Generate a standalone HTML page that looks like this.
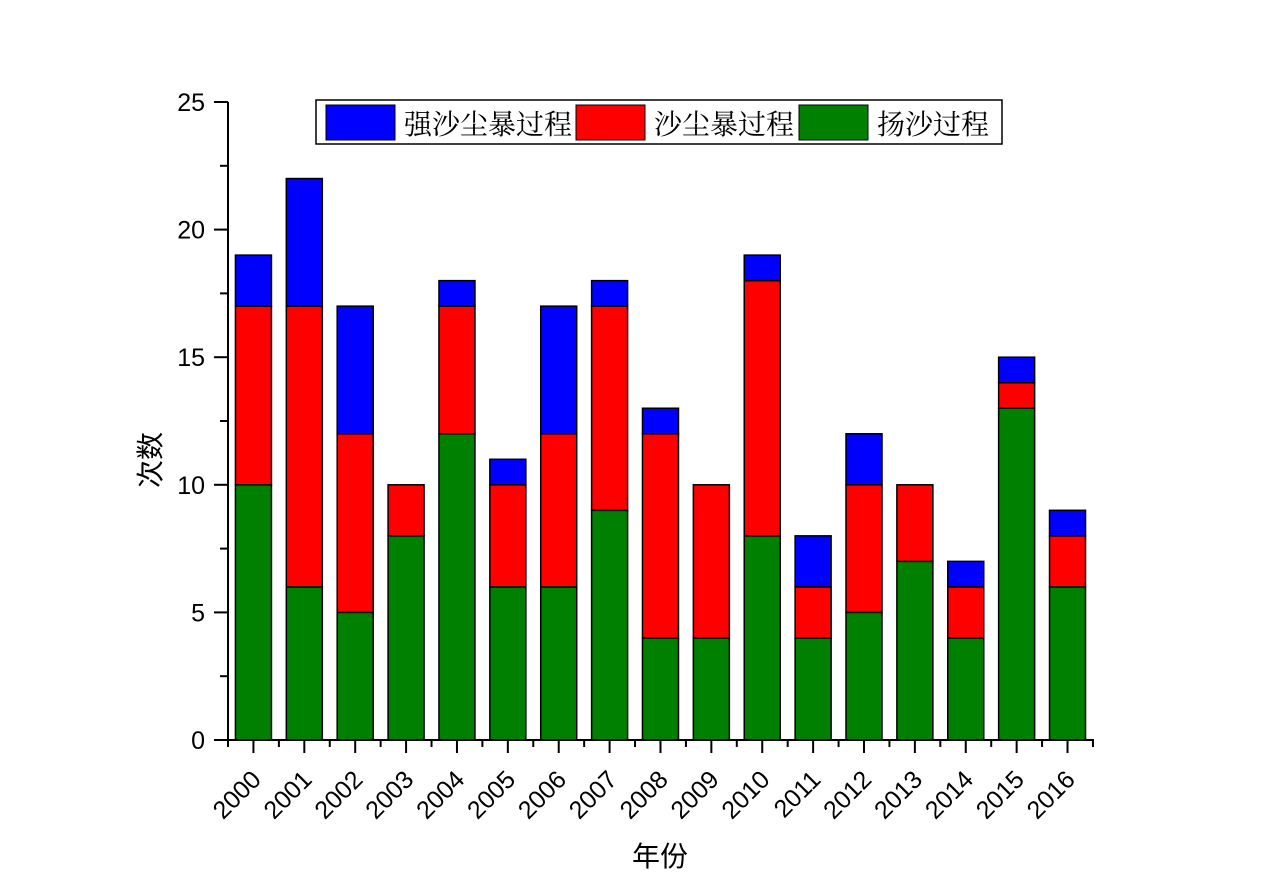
<!DOCTYPE html>
<html><head><meta charset="utf-8"><style>html,body{margin:0;padding:0;background:#fff}svg{display:block}</style></head>
<body>
<svg width="1270" height="887" viewBox="0 0 1270 887" xmlns="http://www.w3.org/2000/svg" font-family="Liberation Sans, Noto Sans CJK SC, sans-serif">
<g id="bars" stroke="#000" stroke-width="1.5"></g>
<g stroke="#000" stroke-width="2" fill="none" id="axes">
<line x1="228" y1="102" x2="228" y2="741"/>
<line x1="227" y1="740" x2="1094" y2="740"/>
</g>
<g id="labels" fill="#000"></g>
<text x="660" y="866" font-size="28" text-anchor="middle" font-family="Noto Sans CJK SC, sans-serif">年份</text>
<text transform="translate(160,460) rotate(-90)" font-size="28" text-anchor="middle" font-family="Noto Sans CJK SC, sans-serif">次数</text>
<g>
<rect x="316" y="100" width="686" height="44" fill="#fff" stroke="#000" stroke-width="1.5"/>
<rect x="326" y="105" width="69" height="35" fill="#0000ff" stroke="#000" stroke-width="1"/>
<text x="404" y="134" font-size="28" font-family="Noto Serif CJK SC, serif">强沙尘暴过程</text>
<rect x="576" y="105" width="69" height="35" fill="#ff0000" stroke="#000" stroke-width="1"/>
<text x="654" y="134" font-size="28" font-family="Noto Serif CJK SC, serif">沙尘暴过程</text>
<rect x="799" y="105" width="69" height="35" fill="#008000" stroke="#000" stroke-width="1"/>
<text x="877" y="134" font-size="28" font-family="Noto Serif CJK SC, serif">扬沙过程</text>
</g>
<script>
var d=[[10,7,2],[6,11,5],[5,7,5],[8,2,0],[12,5,1],[6,4,1],[6,6,5],[9,8,1],[4,8,1],[4,6,0],[8,10,1],[4,2,2],[5,5,2],[7,3,0],[4,2,1],[13,1,1],[6,2,1]];
var ns="http://www.w3.org/2000/svg",B=document.getElementById("bars"),A=document.getElementById("axes"),L=document.getElementById("labels");
function el(p,t,a){var e=document.createElementNS(ns,t);for(var k in a)e.setAttribute(k,a[k]);p.appendChild(e);return e;}
var s=25.52,y0=740,w=50.88,c=["#008000","#ff0000","#0000ff"];
d.forEach(function(v,i){var x=228+w*i+(w-36)/2,acc=0;v.forEach(function(h,j){if(!h)return;el(B,"rect",{x:x,y:y0-(acc+h)*s,width:36,height:h*s,fill:c[j]});acc+=h;});
var cx=228+w*(i+0.5);el(A,"line",{x1:cx,y1:740,x2:cx,y2:753});el(A,"line",{x1:228+w*(i+1),y1:740,x2:228+w*(i+1),y2:747});
var t=el(L,"text",{"text-anchor":"end","font-size":"25",transform:"translate("+(cx+9)+",781) rotate(-45)"});t.textContent=2000+i;});
el(A,"line",{x1:228,y1:740,x2:228,y2:747});
for(var k=0;k<=10;k++){var y=y0-k*2.5*s;el(A,"line",{x1:k%2?220:214,y1:y,x2:228,y2:y});if(k%2==0){var t=el(L,"text",{x:205,y:y+9,"text-anchor":"end","font-size":"25"});t.textContent=k*2.5;}}
</script>
</svg>
</body></html>
